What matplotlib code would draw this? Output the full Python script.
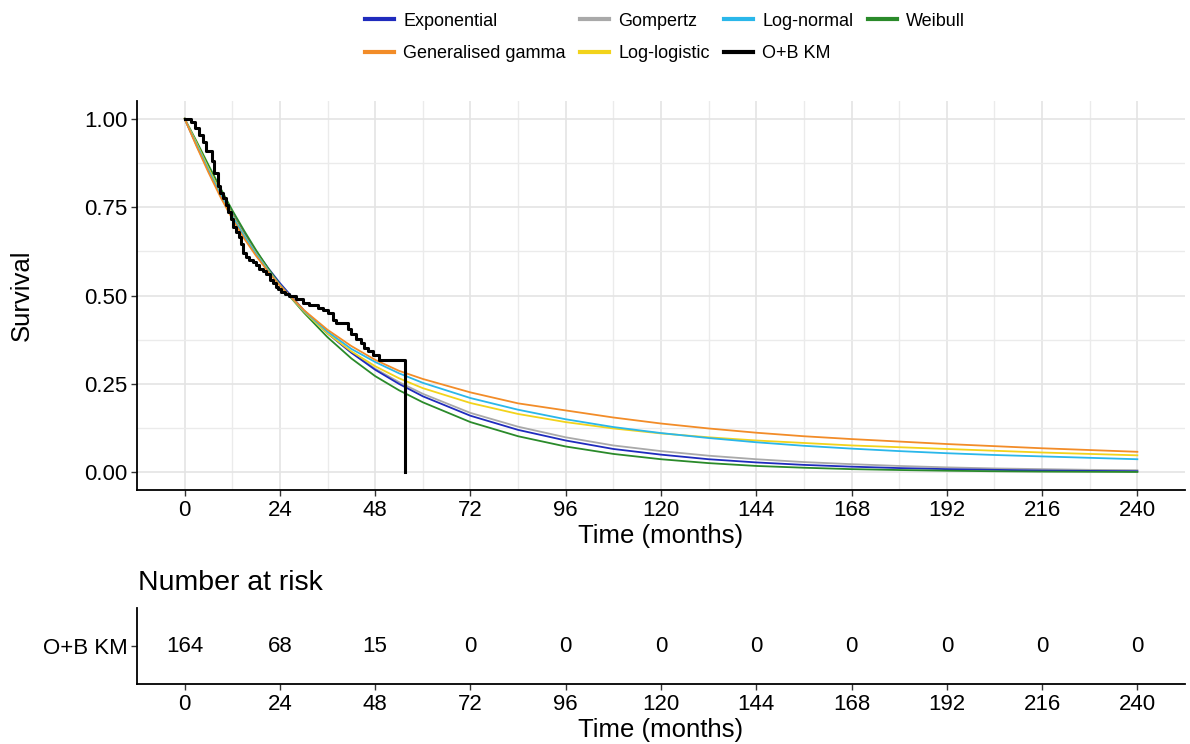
import matplotlib
matplotlib.use("Agg")
import matplotlib.pyplot as plt
from matplotlib.lines import Line2D

plt.rcParams['font.family'] = ['Liberation Sans', 'DejaVu Sans']

# ---------------- data ----------------
model_times = [0, 3, 6, 9, 12, 15, 18, 21, 24, 30, 36, 42, 48, 54, 60, 72, 84, 96,
               108, 120, 132, 144, 156, 168, 180, 192, 204, 216, 228, 240]

exponential = [1.0, 0.927, 0.857, 0.792, 0.731, 0.675, 0.625, 0.578, 0.535, 0.458, 0.393,
               0.338, 0.290, 0.250, 0.215, 0.160, 0.120, 0.090, 0.066, 0.050, 0.037,
               0.028, 0.021, 0.016, 0.012, 0.009, 0.007, 0.005, 0.004, 0.003]
gen_gamma = [1.0, 0.922, 0.848, 0.779, 0.717, 0.661, 0.612, 0.568, 0.528, 0.459, 0.403,
             0.357, 0.318, 0.287, 0.264, 0.226, 0.195, 0.175, 0.155, 0.138, 0.124,
             0.112, 0.102, 0.094, 0.087, 0.080, 0.074, 0.068, 0.063, 0.058]
gompertz = [1.0, 0.924, 0.853, 0.788, 0.728, 0.672, 0.622, 0.576, 0.533, 0.458, 0.394,
            0.340, 0.293, 0.255, 0.222, 0.168, 0.129, 0.099, 0.076, 0.060, 0.047,
            0.037, 0.029, 0.023, 0.018, 0.014, 0.011, 0.009, 0.007, 0.006]
log_logistic = [1.0, 0.931, 0.859, 0.791, 0.728, 0.671, 0.619, 0.572, 0.529, 0.455, 0.393,
                0.342, 0.300, 0.266, 0.238, 0.196, 0.165, 0.142, 0.124, 0.110, 0.099,
                0.090, 0.083, 0.076, 0.071, 0.066, 0.061, 0.056, 0.052, 0.048]
log_normal = [1.0, 0.927, 0.854, 0.786, 0.724, 0.668, 0.617, 0.571, 0.529, 0.457, 0.398,
              0.349, 0.312, 0.280, 0.253, 0.210, 0.177, 0.150, 0.128, 0.111, 0.097,
              0.085, 0.075, 0.067, 0.060, 0.054, 0.049, 0.045, 0.041, 0.037]
weibull = [1.0, 0.936, 0.869, 0.804, 0.741, 0.683, 0.628, 0.577, 0.530, 0.452, 0.382,
           0.322, 0.272, 0.232, 0.198, 0.142, 0.102, 0.073, 0.052, 0.037, 0.026,
           0.018, 0.013, 0.009, 0.0065, 0.0045, 0.003, 0.002, 0.0015, 0.001]

km_times = [0, 1.5, 2.5, 3.5, 4.5, 5.5, 6.8, 7.5, 8.3, 9.0, 9.6, 10.3, 11.0, 11.7, 12.3,
            13.0, 13.7, 14.3, 14.7, 15.5, 16.3, 17.2, 18.0, 18.8, 19.7, 20.5, 21.4,
            22.2, 23.0, 23.5, 24.3, 25.2, 26.4, 28.0, 29.8, 31.4, 33.5, 34.8, 36.1,
            37.3, 38.2, 41.1, 41.9, 43.2, 44.4, 45.3, 46.1, 47.4, 49.0, 55.6]
km_surv = [1.0, 0.99, 0.975, 0.955, 0.935, 0.91, 0.88, 0.845, 0.81, 0.79, 0.775, 0.755, 0.735,
           0.715, 0.695, 0.68, 0.665, 0.645, 0.62, 0.61, 0.60, 0.595, 0.585, 0.575, 0.57,
           0.56, 0.545, 0.535, 0.525, 0.517, 0.51, 0.505, 0.50, 0.49, 0.479, 0.472,
           0.465, 0.46, 0.451, 0.432, 0.423, 0.404, 0.39, 0.376, 0.366, 0.352, 0.343,
           0.333, 0.319, 0.0]

risk_times = [0, 24, 48, 72, 96, 120, 144, 168, 192, 216, 240]
risk_counts = [164, 68, 15, 0, 0, 0, 0, 0, 0, 0, 0]
risk_label = "O+B KM"

series_names = ["Exponential", "Generalised gamma", "Gompertz", "Log-logistic",
                "Log-normal", "O+B KM", "Weibull"]
colors = {"Exponential": "#1f2bbd", "Generalised gamma": "#f28c28",
          "Gompertz": "#a9a9a9", "Log-logistic": "#f2d31b",
          "Log-normal": "#2ab7ea", "O+B KM": "#000000", "Weibull": "#2a8a2a"}

# ---------------- figure ----------------
fig = plt.figure(figsize=(11.9, 7.44), dpi=100)
W, H = 1190, 744

ax = fig.add_axes([137 / W, 1 - 490 / H, (1185 - 137) / W, (490 - 101) / H])
ax.set_xlim(-12, 252)
ax.set_ylim(-0.05, 1.05)
xt = list(range(0, 241, 24))
ax.set_xticks(xt)
ax.set_xticks(list(range(12, 241, 24)), minor=True)
ax.set_yticks([0, 0.25, 0.5, 0.75, 1.0])
ax.set_yticks([0.125, 0.375, 0.625, 0.875], minor=True)
ax.set_yticklabels(["0.00", "0.25", "0.50", "0.75", "1.00"])
ax.grid(True, which='major', color='#e4e4e4', lw=1.2)
ax.grid(True, which='minor', color='#ebebeb', lw=1.0)
ax.set_axisbelow(True)
for s in ['top', 'right']:
    ax.spines[s].set_visible(False)
for s in ['left', 'bottom']:
    ax.spines[s].set_linewidth(1.3)
ax.tick_params(which='major', labelsize=16, length=4, width=1.0, color='#333333', pad=3)
ax.tick_params(which='minor', length=0)
ax.set_xlabel("Time (months)", fontsize=18.5, labelpad=2)
ax.set_ylabel("Survival", fontsize=18.5, labelpad=36)

model_data = {"Exponential": exponential, "Generalised gamma": gen_gamma,
              "Gompertz": gompertz, "Log-logistic": log_logistic,
              "Log-normal": log_normal, "Weibull": weibull}
for name in ["Gompertz", "Exponential", "Weibull", "Log-logistic", "Log-normal",
             "Generalised gamma"]:
    ax.plot(model_times, model_data[name], color=colors[name], lw=1.3, zorder=3)
ax.step(km_times, km_surv, where='post', color='black', lw=2.2, zorder=4)

handles = [Line2D([], [], color=colors[n], lw=3) for n in series_names]
fig.legend(handles, series_names, loc='upper center', bbox_to_anchor=(665 / W, 1.005),
           ncol=4, frameon=False, fontsize=13, handlelength=1.6, handletextpad=0.5,
           columnspacing=0.8, labelspacing=0.85)

# ---------------- risk table ----------------
rax = fig.add_axes([137 / W, 1 - 684 / H, (1185 - 137) / W, (684 - 608) / H])
rax.set_xlim(-12, 252)
rax.set_ylim(0, 1)
rax.set_xticks(xt)
rax.set_yticks([0.5])
rax.set_yticklabels([risk_label])
for s in ['top', 'right']:
    rax.spines[s].set_visible(False)
for s in ['left', 'bottom']:
    rax.spines[s].set_linewidth(1.3)
rax.tick_params(labelsize=16, length=4, width=1.0, color='#333333', pad=3)
rax.set_xlabel("Time (months)", fontsize=18.5, labelpad=2)
for t, n in zip(risk_times, risk_counts):
    rax.text(t, 0.5, str(n), ha='center', va='center', fontsize=16)
fig.text(138 / W, 1 - 583 / H, "Number at risk", fontsize=20.5, ha='left', va='center')

fig.savefig("out.png", dpi=100)
